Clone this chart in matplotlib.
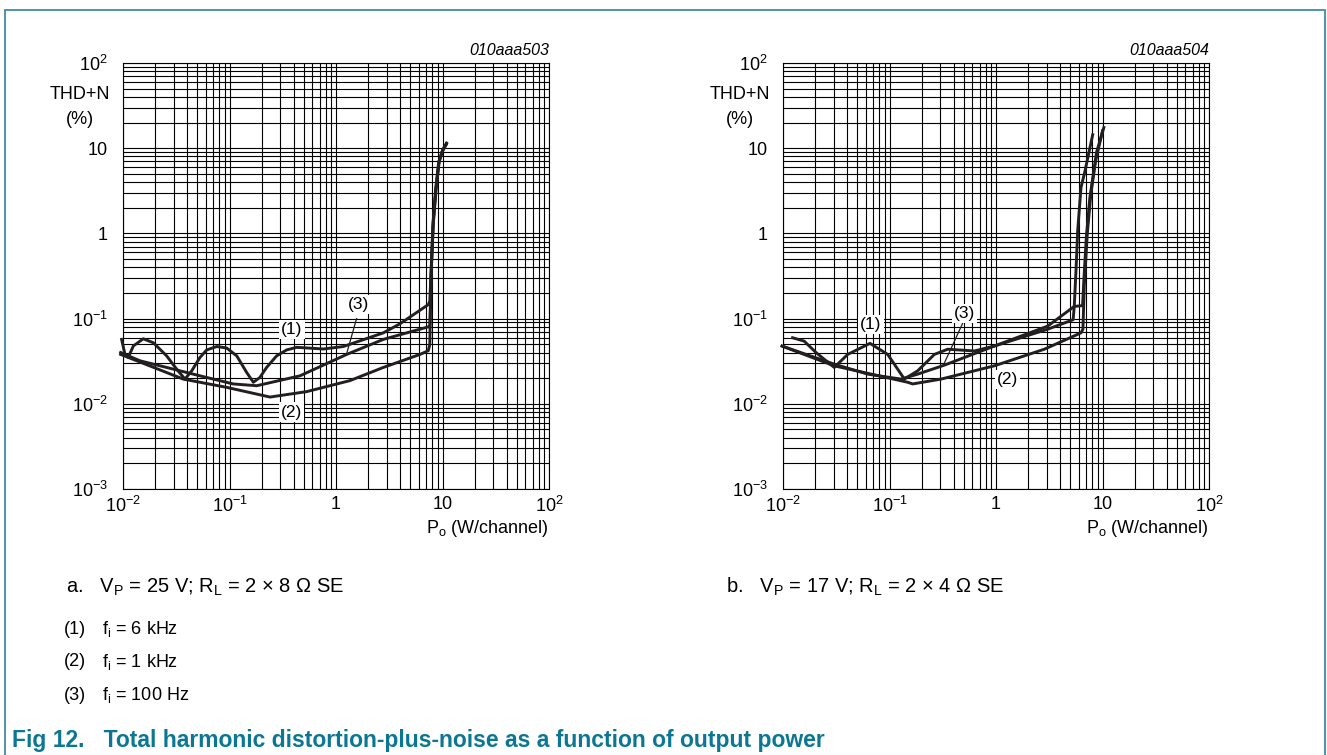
import matplotlib
matplotlib.use("Agg")
import matplotlib.pyplot as plt
import numpy as np
from matplotlib.ticker import LogLocator, FixedLocator, FixedFormatter, NullFormatter
from matplotlib.patches import Rectangle

plt.rcParams['font.family'] = ['Liberation Sans', 'DejaVu Sans']
plt.rcParams['mathtext.fontset'] = 'custom'
plt.rcParams['mathtext.rm'] = 'Liberation Sans'
plt.rcParams['mathtext.it'] = 'Liberation Sans:italic'

# ---- data (P in W/channel, THD+N in %) ----
# panel a: Vp = 25 V, RL = 2 x 8 ohm
a1_p = [0.0097, 0.01044, 0.0112, 0.0125, 0.0155, 0.0193, 0.0257, 0.0319, 0.0382, 0.0442,
        0.0528, 0.0611, 0.0759, 0.094, 0.117, 0.145, 0.1675, 0.193, 0.223, 0.277,
        0.344, 0.428, 0.76, 1.17, 2.78, 3.99, 7.36, 7.6, 7.9, 8.2, 8.7, 9.3, 10.0, 10.9]
a1_thd = [0.057, 0.038, 0.035, 0.0477, 0.058, 0.052, 0.0365, 0.0255, 0.0195, 0.0244,
          0.035, 0.0429, 0.047, 0.0452, 0.0365, 0.0233, 0.0179, 0.0204, 0.0267, 0.0365,
          0.0429, 0.046, 0.044, 0.047, 0.068, 0.087, 0.146, 0.16, 0.5, 1.4, 3.45, 7.1, 9.5, 11.5]
a2_p = [0.0095, 0.0368, 0.094, 0.240, 0.531, 1.35, 2.78, 6.15, 7.36, 7.6, 7.8, 8.1, 8.6, 9.2, 9.9, 10.8]
a2_thd = [0.038, 0.0195, 0.0156, 0.012, 0.0139, 0.0187, 0.0267, 0.038, 0.042, 0.05, 0.3, 1.2, 3.2, 6.8, 9.0, 11.0]
a3_p = [0.0095, 0.0144, 0.0257, 0.0528, 0.1086, 0.180, 0.459, 1.26, 2.78, 7.36, 7.6, 7.9, 8.2, 8.7, 9.3, 10.0, 10.9]
a3_thd = [0.040, 0.032, 0.0267, 0.0213, 0.0171, 0.0163, 0.0213, 0.038, 0.057, 0.080, 0.082, 0.45, 1.3, 3.3, 6.9, 9.3, 11.2]

# panel b: Vp = 17 V, RL = 2 x 4 ohm
b1_p = [0.0123, 0.0158, 0.0204, 0.0303, 0.0405, 0.0656, 0.0962, 0.138, 0.184, 0.264,
        0.352, 0.627, 0.964, 3.05, 5.43, 6.5, 6.7, 7.05, 7.6, 8.8, 10.3]
b1_thd = [0.0596, 0.0544, 0.040, 0.0267, 0.038, 0.0512, 0.038, 0.0195, 0.0244, 0.038,
          0.0437, 0.0417, 0.0476, 0.0815, 0.139, 0.142, 0.3, 0.9, 2.6, 9.0, 17.5]
b2_p = [0.0098, 0.0303, 0.148, 0.165, 0.305, 0.964, 2.84, 6.28, 6.55, 6.75, 7.2, 7.8, 8.6, 10.0]
b2_thd = [0.0476, 0.0279, 0.0179, 0.0171, 0.0195, 0.0279, 0.0437, 0.068, 0.075, 0.25, 1.0, 3.0, 7.0, 16.0]
b3_p = [0.0098, 0.0303, 0.0624, 0.128, 0.184, 0.327, 0.964, 3.05, 5.3, 5.43, 5.64, 5.85, 6.28, 6.85, 8.09]
b3_thd = [0.0476, 0.0292, 0.0223, 0.0195, 0.0223, 0.0284, 0.0476, 0.075, 0.097, 0.139, 0.371, 1.08, 3.45, 5.4, 14.4]

x_ticks = [0.01, 0.1, 1, 10, 100]
x_labels = [r'$\mathregular{10^{-2}}$', r'$\mathregular{10^{-1}}$', '1', '10', r'$\mathregular{10^{2}}$']
y_ticks = [0.001, 0.01, 0.1, 1, 10, 100]
y_labels = [r'$\mathregular{10^{-3}}$', r'$\mathregular{10^{-2}}$', r'$\mathregular{10^{-1}}$', '1', '10', r'$\mathregular{10^{2}}$']

panel_codes = ['010aaa503', '010aaa504']
panel_titles = [r'a.   V$\mathregular{_P}$ = 25 V; R$\mathregular{_L}$ = 2 $\times$ 8 $\Omega$ SE',
                r'b.   V$\mathregular{_P}$ = 17 V; R$\mathregular{_L}$ = 2 $\times$ 4 $\Omega$ SE']
legend_items = [('(1)', r'f$\mathregular{_i}$ = 6 kHz'),
                ('(2)', r'f$\mathregular{_i}$ = 1 kHz'),
                ('(3)', r'f$\mathregular{_i}$ = 100 Hz')]
caption = 'Fig 12.   Total harmonic distortion-plus-noise as a function of output power'

teal = '#0b7794'
ink = '#231f20'

fig = plt.figure(figsize=(13.27, 7.55), dpi=100)

# frame round the whole figure
fig.add_artist(Rectangle((0.004, -0.02), 0.9945, 1.0068, transform=fig.transFigure,
                         fill=False, edgecolor='#3d8ea8', lw=1.3))

W, H = 1327.0, 755.0
ax_a = fig.add_axes([123 / W, 1 - 489 / H, 426 / W, 426 / H])
ax_b = fig.add_axes([783 / W, 1 - 489 / H, 426 / W, 426 / H])


def style_axes(ax, code):
    ax.set_xscale('log')
    ax.set_yscale('log')
    ax.set_xlim(0.01, 100)
    ax.set_ylim(0.001, 100)
    ax.xaxis.set_major_locator(FixedLocator(x_ticks))
    ax.xaxis.set_major_formatter(FixedFormatter(x_labels))
    ax.yaxis.set_major_locator(FixedLocator(y_ticks))
    ax.yaxis.set_major_formatter(FixedFormatter(y_labels))
    ax.xaxis.set_minor_locator(LogLocator(base=10, subs=np.arange(2, 10), numticks=20))
    ax.yaxis.set_minor_locator(LogLocator(base=10, subs=np.arange(2, 10), numticks=20))
    ax.xaxis.set_minor_formatter(NullFormatter())
    ax.yaxis.set_minor_formatter(NullFormatter())
    ax.tick_params(which='both', length=0)
    ax.tick_params(axis='x', pad=5, labelsize=13)
    ax.tick_params(axis='y', pad=11, labelsize=13)
    ax.grid(which='both', color='black', lw=0.8)
    ax.set_axisbelow(True)
    for s in ax.spines.values():
        s.set_linewidth(0.8)
    ax.text(1.0, 1.012, code, transform=ax.transAxes, ha='right', va='bottom',
            fontsize=11.5, style='italic')
    ax.text(-0.101, 0.925, 'THD+N', transform=ax.transAxes, ha='center', va='center', fontsize=13)
    ax.text(-0.101, 0.868, '(%)', transform=ax.transAxes, ha='center', va='center', fontsize=13)
    ax.text(1.0, -0.092, r'P$\mathregular{_o}$ (W/channel)', transform=ax.transAxes,
            ha='right', va='center', fontsize=13)


def label(ax, x, y, s):
    ax.text(x, y, s, ha='center', va='center', fontsize=12.5, zorder=5,
            bbox=dict(facecolor='white', edgecolor='none', pad=1.5))


style_axes(ax_a, panel_codes[0])
style_axes(ax_b, panel_codes[1])

for p, t in [(a1_p, a1_thd), (a2_p, a2_thd), (a3_p, a3_thd)]:
    ax_a.plot(p, t, color=ink, lw=2.1, clip_on=False, solid_joinstyle='round', zorder=4)
for p, t in [(b1_p, b1_thd), (b2_p, b2_thd), (b3_p, b3_thd)]:
    ax_b.plot(p, t, color=ink, lw=2.1, clip_on=False, solid_joinstyle='round', zorder=4)

label(ax_a, 0.384, 0.0744, '(1)')
label(ax_a, 0.384, 0.0080, '(2)')
label(ax_a, 1.62, 0.146, '(3)')
ax_a.plot([1.56, 1.26], [0.100, 0.039], color=ink, lw=0.9, zorder=4)

label(ax_b, 0.067, 0.085, '(1)')
label(ax_b, 1.29, 0.0195, '(2)')
label(ax_b, 0.503, 0.116, '(3)')
ax_b.plot([0.486, 0.323], [0.088, 0.0290], color=ink, lw=0.9, zorder=4)

# panel subtitles, legend and caption
fig.text(66 / W, 1 - 587 / H, panel_titles[0], ha='left', va='center', fontsize=14.5)
fig.text(726 / W, 1 - 587 / H, panel_titles[1], ha='left', va='center', fontsize=14.5)
for i, (num, txt) in enumerate(legend_items):
    yy = 1 - (629 + 33 * i) / H
    fig.text(64 / W, yy, num, ha='left', va='center', fontsize=13)
    fig.text(102 / W, yy, txt, ha='left', va='center', fontsize=13)
fig.text(12 / W, 1 - 740 / H, caption, ha='left', va='center', fontsize=16.5,
         fontweight='bold', color=teal)

fig.savefig('out.png', dpi=100)
